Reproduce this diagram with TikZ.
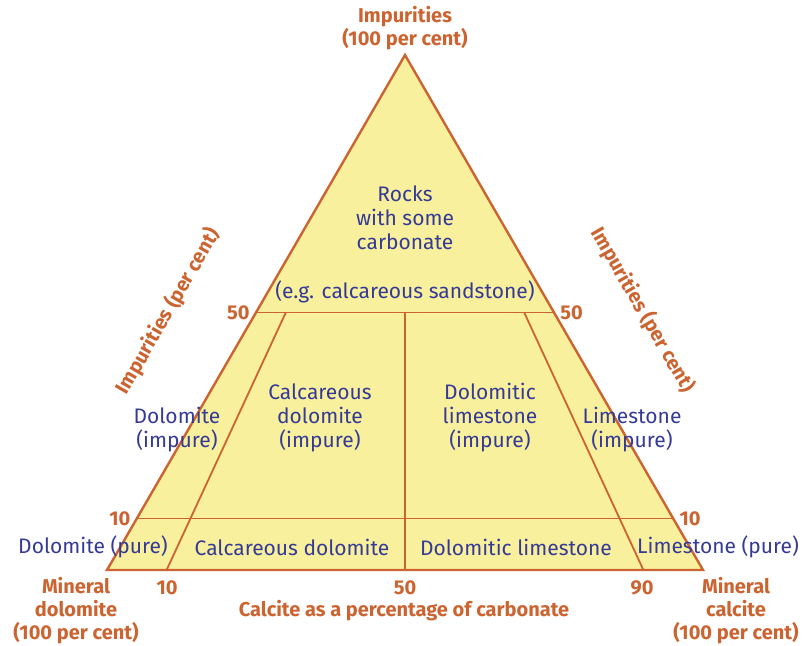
\documentclass[tikz,border=0pt]{standalone}
\usepackage{fontspec}
\setmainfont{Fira Sans}
\usepackage{tikz}
\usetikzlibrary{positioning, calc}
\definecolor{cfill}{HTML}{F8F09C}
\definecolor{cline}{HTML}{CC6431}
\definecolor{cblue}{HTML}{353A96}
\tikzset{
  edge/.style={draw=cline, line width=1.2pt, line join=miter},
  part/.style={draw=cline, line width=0.9pt},
  rock/.style={text=cblue, align=center, font=\fontsize{10.5}{12}\selectfont, inner sep=1pt},
  axl/.style={text=cline, align=center, font=\bfseries\fontsize{10}{11.5}\selectfont, inner sep=1pt},
}

\begin{document}
\begin{tikzpicture}[x=0.5pt, y=-0.5pt]
  \useasboundingbox (0,0) rectangle (802,645);
  % ---------- corners ----------
  \coordinate (dol) at (107,570);
  \coordinate (cal) at (703,570);
  \coordinate (imp) at (405,55);
  % ---------- points on the sides ----------
  \coordinate (l50) at ($(dol)!0.5!(imp)$);
  \coordinate (r50) at ($(cal)!0.5!(imp)$);
  \coordinate (l10) at ($(dol)!0.1!(imp)$);
  \coordinate (r10) at ($(cal)!0.1!(imp)$);
  \coordinate (b10) at ($(dol)!0.1!(cal)$);
  \coordinate (b50) at ($(dol)!0.5!(cal)$);
  \coordinate (b90) at ($(dol)!0.9!(cal)$);
  \coordinate (t10) at ($(b10)!0.5!(imp)$);
  \coordinate (t50) at ($(b50)!0.5!(imp)$);
  \coordinate (t90) at ($(b90)!0.5!(imp)$);
  % ---------- triangle ----------
  \fill[cfill] (dol) -- (cal) -- (imp) -- cycle;
  \draw[part] (l50) -- (r50);
  \draw[part] (l10) -- (r10);
  \draw[part] (b10) -- (t10);
  \draw[part] (b50) -- (t50);
  \draw[part] (b90) -- (t90);
  \draw[edge] (dol) -- (cal) -- (imp) -- cycle;
  % ---------- rock names ----------
  \node[rock] (sand) at (405,218) {Rocks\\with some\\carbonate};
  \node[rock] (eg) at (405,292) {(e.g. calcareous sandstone)};
  \node[rock] (cdi) at (320,418) {Calcareous\\dolomite\\(impure)};
  \node[rock] (dli) at (490,418) {Dolomitic\\limestone\\(impure)};
  \node[rock] (doi) at (177,430) {Dolomite\\(impure)};
  \node[rock] (lii) at (632,430) {Limestone\\(impure)};
  \node[rock] (dop) at (93,547) {Dolomite (pure)};
  \node[rock] (cdo) at (292,547) {Calcareous dolomite};
  \node[rock] (dlo) at (516,547) {Dolomitic limestone};
  \node[rock] (lip) at (718,547) {Limestone (pure)};
  % ---------- axis labels ----------
  \node[axl] (top) at (405,28) {Impurities\\(100 per cent)};
  \node[axl] (mdol) at (76,611) {Mineral\\dolomite\\(100 per cent)};
  \node[axl] (mcal) at (736,611) {Mineral\\calcite\\(100 per cent)};
  \node[axl] (bax) at (404,611) {Calcite as a percentage of carbonate};
  \node[axl, rotate=60] (lax) at (168,311) {Impurities (per cent)};
  \node[axl, rotate=-60] (rax) at (643,310) {Impurities (per cent)};
  \node[axl, left=2pt of l50] (n50l) {50};
  \node[axl, right=2pt of r50] (n50r) {50};
  \node[axl, left=2pt of l10] (n10l) {10};
  \node[axl, right=2pt of r10] (n10r) {10};
  \node[axl] (n10b) at (167,588) {10};
  \node[axl] (n50b) at (405,588) {50};
  \node[axl] (n90b) at (642,588) {90};
\end{tikzpicture}
\end{document}
